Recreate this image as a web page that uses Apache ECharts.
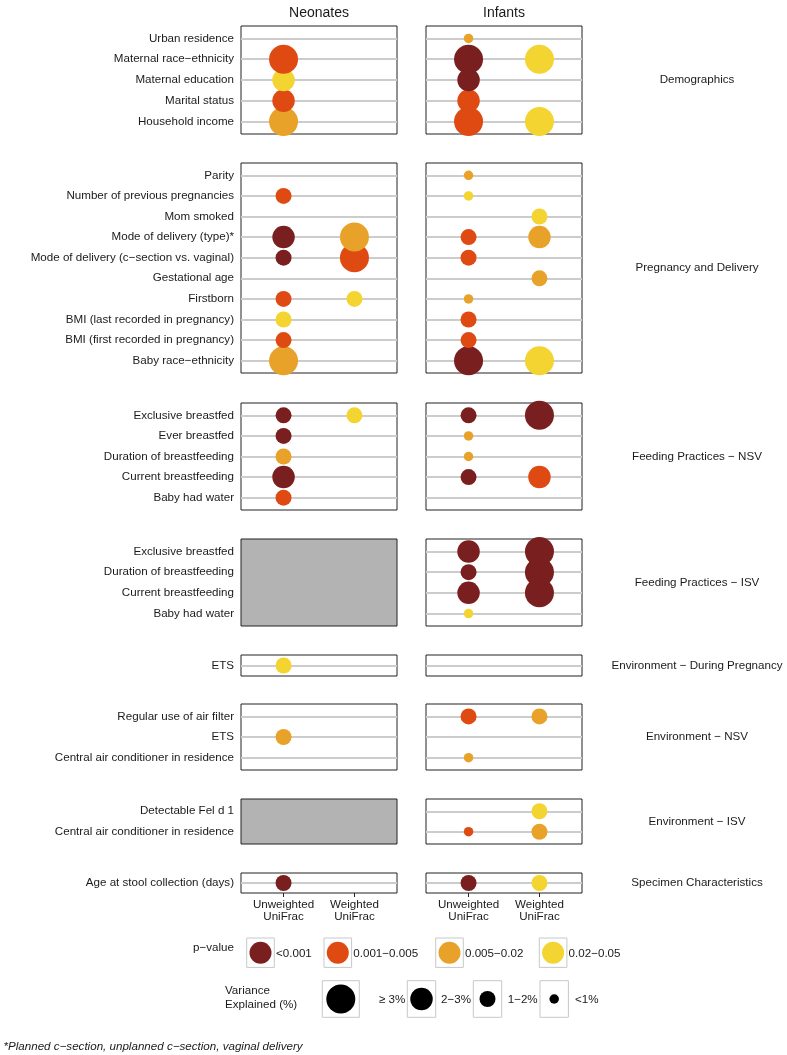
<!DOCTYPE html>
<html>
<head>
<meta charset="utf-8">
<script src="https://cdn.jsdelivr.net/npm/echarts@6/dist/echarts.min.js"></script>
<style>
html,body{margin:0;padding:0;background:#ffffff;}
#chart{width:787px;height:1055px;}
</style>
</head>
<body>
<div id="chart"></div>
<script>
// ---------------- DATA ----------------
// Legend classes
const pValueClasses = ["<0.001", "0.001\u22120.005", "0.005\u22120.02", "0.02\u22120.05"];
const varianceClasses = ["\u2265 3%", "2\u22123%", "1\u22122%", "<1%"];
const metricLabels = ["Unweighted\nUniFrac", "Weighted\nUniFrac"];
const facetLabels = ["Neonates", "Infants"];
const groupLabels = ["Demographics", "Pregnancy and Delivery", "Feeding Practices \u2212 NSV",
  "Feeding Practices \u2212 ISV", "Environment \u2212 During Pregnancy", "Environment \u2212 NSV",
  "Environment \u2212 ISV", "Specimen Characteristics"];

// each cell: [p-value class index, variance class index] or null (not significant)
const demographicsRows = ["Urban residence", "Maternal race\u2212ethnicity", "Maternal education", "Marital status", "Household income"];
const demographicsNeoUnw = [null, [1,0], [3,1], [1,1], [2,0]];
const demographicsNeoW   = [null, null, null, null, null];
const demographicsInfUnw = [[2,3], [0,0], [0,1], [1,1], [1,0]];
const demographicsInfW   = [null, [3,0], null, null, [3,0]];

const pregnancyRows = ["Parity", "Number of previous pregnancies", "Mom smoked", "Mode of delivery (type)*",
  "Mode of delivery (c\u2212section vs. vaginal)", "Gestational age", "Firstborn",
  "BMI (last recorded in pregnancy)", "BMI (first recorded in pregnancy)", "Baby race\u2212ethnicity"];
const pregnancyNeoUnw = [null, [1,2], null, [0,1], [0,2], null, [1,2], [3,2], [1,2], [2,0]];
const pregnancyNeoW   = [null, null, null, [2,0], [1,0], null, [3,2], null, null, null];
const pregnancyInfUnw = [[2,3], [3,3], null, [1,2], [1,2], null, [2,3], [1,2], [1,2], [0,0]];
const pregnancyInfW   = [null, null, [3,2], [2,1], null, [2,2], null, null, null, [3,0]];

const feedingNsvRows = ["Exclusive breastfed", "Ever breastfed", "Duration of breastfeeding", "Current breastfeeding", "Baby had water"];
const feedingNsvNeoUnw = [[0,2], [0,2], [2,2], [0,1], [1,2]];
const feedingNsvNeoW   = [[3,2], null, null, null, null];
const feedingNsvInfUnw = [[0,2], [2,3], [2,3], [0,2], null];
const feedingNsvInfW   = [[0,0], null, null, [1,1], null];

const feedingIsvRows = ["Exclusive breastfed", "Duration of breastfeeding", "Current breastfeeding", "Baby had water"];
const feedingIsvInfUnw = [[0,1], [0,2], [0,1], [3,3]];
const feedingIsvInfW   = [[0,0], [0,0], [0,0], null];

const envPregRows = ["ETS"];
const envPregNeoUnw = [[3,2]];
const envPregNeoW   = [null];
const envPregInfUnw = [null];
const envPregInfW   = [null];

const envNsvRows = ["Regular use of air filter", "ETS", "Central air conditioner in residence"];
const envNsvNeoUnw = [null, [2,2], null];
const envNsvNeoW   = [null, null, null];
const envNsvInfUnw = [[1,2], null, [2,3]];
const envNsvInfW   = [[2,2], null, null];

const envIsvRows = ["Detectable Fel d 1", "Central air conditioner in residence"];
const envIsvInfUnw = [null, [1,3]];
const envIsvInfW   = [[3,2], [2,2]];

const specimenRows = ["Age at stool collection (days)"];
const specimenNeoUnw = [[0,2]];
const specimenNeoW   = [null];
const specimenInfUnw = [[0,2]];
const specimenInfW   = [[3,2]];

// group assembly (null facet = not measured -> grey panel)
const groups = [
  {rows: demographicsRows, facets: [[demographicsNeoUnw, demographicsNeoW], [demographicsInfUnw, demographicsInfW]]},
  {rows: pregnancyRows, facets: [[pregnancyNeoUnw, pregnancyNeoW], [pregnancyInfUnw, pregnancyInfW]]},
  {rows: feedingNsvRows, facets: [[feedingNsvNeoUnw, feedingNsvNeoW], [feedingNsvInfUnw, feedingNsvInfW]]},
  {rows: feedingIsvRows, facets: [null, [feedingIsvInfUnw, feedingIsvInfW]]},
  {rows: envPregRows, facets: [[envPregNeoUnw, envPregNeoW], [envPregInfUnw, envPregInfW]]},
  {rows: envNsvRows, facets: [[envNsvNeoUnw, envNsvNeoW], [envNsvInfUnw, envNsvInfW]]},
  {rows: envIsvRows, facets: [null, [envIsvInfUnw, envIsvInfW]]},
  {rows: specimenRows, facets: [[specimenNeoUnw, specimenNeoW], [specimenInfUnw, specimenInfW]]}
];

// ---------------- STYLE / LAYOUT ----------------
const FONT = "'Liberation Sans', Arial, Helvetica, sans-serif";
const FS = 11.6;
const TXT = '#1a1a1a';
const pColors = ['#7A1F1F', '#DE4A12', '#E8A229', '#F3D431'];
const vSizes = [29, 22.5, 16, 9.5];
const panelTops = [26, 163, 403, 539, 655, 704, 799, 873];
const panelHeights = [108, 210, 107, 87, 21, 66, 45, 20];
const colLefts = [241, 426];
const colWidth = 156;
const stripX = 697;

const grids = [], xAxes = [], yAxes = [], series = [], graphics = [];
let gi = 0;
groups.forEach((g, r) => {
  const n = g.rows.length;
  const last = r === groups.length - 1;
  for (let f = 0; f < 2; f++) {
    const facet = g.facets[f];
    grids.push({
      left: colLefts[f], top: panelTops[r], width: colWidth, height: panelHeights[r],
      show: true, borderColor: '#222', borderWidth: 1,
      backgroundColor: facet ? '#ffffff' : '#b3b3b3'
    });
    xAxes.push({
      type: 'value', gridIndex: gi, min: -0.6, max: 1.6, show: last, position: 'bottom',
      axisLine: {show: false, onZero: false},
      axisTick: {show: true, customValues: [0, 1], length: 4, lineStyle: {color: '#222', width: 1}},
      axisLabel: {show: true, customValues: [0, 1], formatter: v => metricLabels[Math.round(v)] || '',
        fontFamily: FONT, fontSize: FS, color: TXT, lineHeight: 12.7, margin: 5},
      splitLine: {show: false}
    });
    yAxes.push({
      type: 'value', gridIndex: gi, min: -0.6, max: n - 0.4, inverse: true,
      axisLine: {show: false, onZero: false}, axisTick: {show: false}, splitLine: {show: false},
      axisLabel: {show: f === 0, customValues: g.rows.map((_, i) => i),
        formatter: v => g.rows[Math.round(v)] || '', fontFamily: FONT, fontSize: FS, color: TXT, margin: 7}
    });
    if (facet) {
      series.push({
        type: 'scatter', xAxisIndex: gi, yAxisIndex: gi, data: [], silent: true, z: 1,
        markLine: {silent: true, z: 1, animation: false, symbol: ['none', 'none'], label: {show: false},
          lineStyle: {color: '#cccccc', width: 2, type: 'solid'},
          emphasis: {disabled: true},
          data: g.rows.map((_, i) => ({yAxis: i}))}
      });
      const items = [];
      for (let i = n - 1; i >= 0; i--) {
        for (let m = 0; m < 2; m++) {
          const cell = facet[m][i];
          if (cell) items.push([m, i, cell[0], cell[1]]);
        }
      }
      series.push({
        type: 'scatter', xAxisIndex: gi, yAxisIndex: gi, clip: true, silent: true, z: 3,
        animation: false, data: items,
        symbolSize: v => vSizes[v[3]],
        itemStyle: {color: p => pColors[p.value[2]], opacity: 1}
      });
    }
    gi++;
  }
  graphics.push({type: 'text', x: stripX, y: panelTops[r] + panelHeights[r] / 2,
    style: {text: groupLabels[r], fontFamily: FONT, fontSize: FS, fill: TXT,
      align: 'center', verticalAlign: 'middle', textAlign: 'center', textVerticalAlign: 'middle'}});
});

// facet titles
facetLabels.forEach((t, f) => {
  graphics.push({type: 'text', x: colLefts[f] + colWidth / 2, y: 13.5,
    style: {text: t, fontFamily: FONT, fontSize: 14, fill: TXT,
      align: 'center', verticalAlign: 'middle', textAlign: 'center', textVerticalAlign: 'middle'}});
});

function txt(text, x, y, opts) {
  return Object.assign({type: 'text', x: x, y: y,
    style: Object.assign({text: text, fontFamily: FONT, fontSize: FS, fill: TXT,
      align: 'left', verticalAlign: 'middle', textAlign: 'left', textVerticalAlign: 'middle'}, opts || {})});
}

// p-value legend
graphics.push(txt('p\u2212value', 193, 948));
const pBoxX = [246.7, 324, 435.7, 539.3];
pValueClasses.forEach((lab, k) => {
  const x = pBoxX[k];
  graphics.push({type: 'rect', shape: {x: x, y: 938, width: 27.6, height: 29.4},
    style: {fill: '#fff', stroke: '#c8c8c8', lineWidth: 1}});
  graphics.push({type: 'circle', shape: {cx: x + 13.8, cy: 952.7, r: 11},
    style: {fill: pColors[k]}});
  graphics.push(txt(lab, x + 29.3, 953.5));
});

// variance legend
graphics.push(txt('Variance', 225, 991));
graphics.push(txt('Explained (%)', 225, 1004.5));
const vBoxX = [322.3, 407.3, 473.3, 540];
const vBoxW = [37, 28.4, 28.4, 28.4];
const vLabX = [379, 441, 507.7, 575];
varianceClasses.forEach((lab, k) => {
  const x = vBoxX[k];
  graphics.push({type: 'rect', shape: {x: x, y: 980.7, width: vBoxW[k], height: 36.6},
    style: {fill: '#fff', stroke: '#c8c8c8', lineWidth: 1}});
  graphics.push({type: 'circle', shape: {cx: x + vBoxW[k] / 2, cy: 999, r: vSizes[k] / 2},
    style: {fill: '#000'}});
  graphics.push(txt(lab, vLabX[k], 999.5));
});

// footnote
graphics.push(txt('*Planned c\u2212section, unplanned c\u2212section, vaginal delivery', 3.5, 1047, {fontStyle: 'italic'}));

const chart = echarts.init(document.getElementById('chart'), null, {renderer: 'canvas'});
chart.setOption({
  animation: false,
  backgroundColor: '#ffffff',
  grid: grids,
  xAxis: xAxes,
  yAxis: yAxes,
  series: series,
  graphic: {elements: graphics}
});
</script>
</body>
</html>
